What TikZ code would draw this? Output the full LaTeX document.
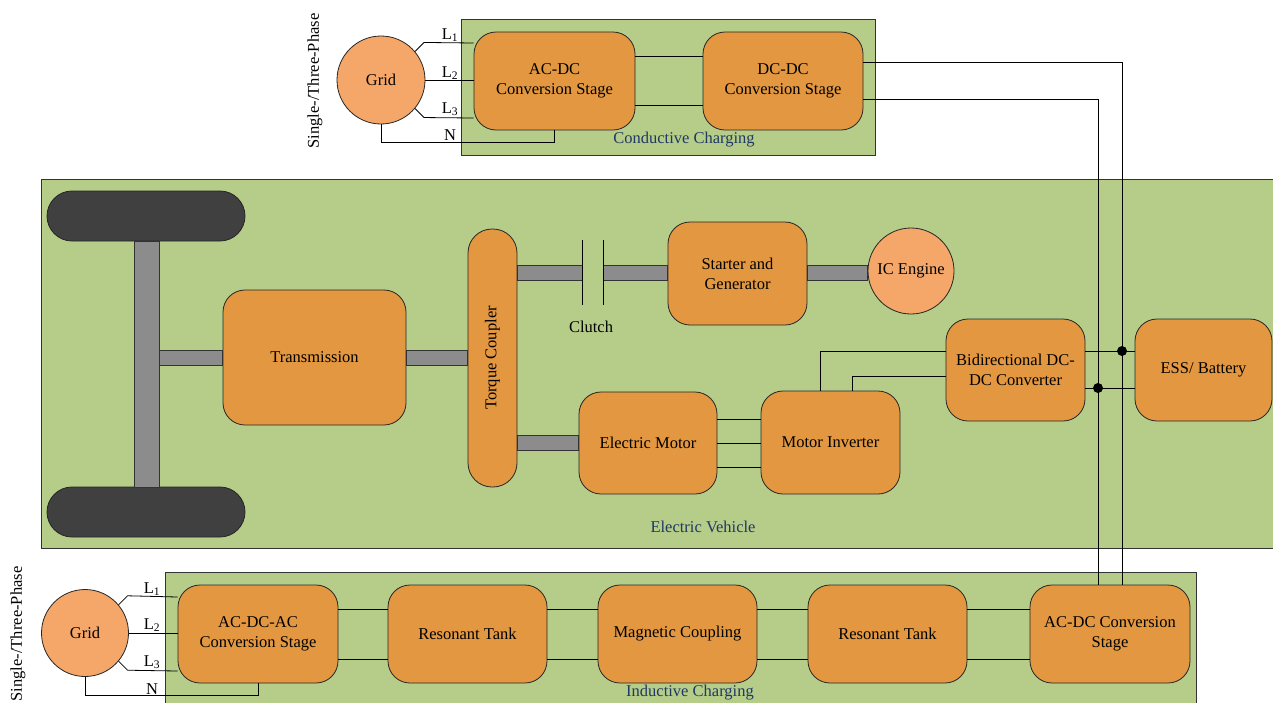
\documentclass[tikz,border=0pt]{standalone}
\usepackage{fontspec}
\setmainfont{Liberation Serif}
\usetikzlibrary{positioning,calc}
\definecolor{evgreen}{RGB}{182,204,137}
\definecolor{boxorange}{RGB}{226,151,64}
\definecolor{gridorange}{RGB}{245,167,105}
\definecolor{tyregray}{RGB}{64,64,64}
\definecolor{shaftgray}{RGB}{140,140,140}
\definecolor{labelblue}{RGB}{31,56,100}

\tikzset{
  area/.style={draw=black!80, fill=evgreen, line width=0.8pt},
  areatext/.style={text=labelblue},
  stagebox/.style={draw=black!85, fill=boxorange, line width=0.8pt, rounded corners=22pt,
    align=center, inner sep=0pt},
  gridnode/.style={circle, draw=black!85, fill=gridorange, line width=0.8pt, inner sep=0pt},
  tyre/.style={draw=black!85, fill=tyregray, line width=0.8pt, rounded corners=25pt,
    minimum width=198pt, minimum height=50pt},
  shaft/.style={draw=black!80, fill=shaftgray, line width=0.8pt},
  wire/.style={draw=black, line width=0.8pt},
}

\begin{document}
\begin{tikzpicture}[x=1pt, y=-1pt, font=\fontsize{16.5}{20}\selectfont]
    \useasboundingbox (0,0) rectangle (1273,702);

    % charging and vehicle areas
    \node[area, minimum width=414pt, minimum height=136pt] (cond) at (668,87) {};
    \node[area, minimum width=1239pt, minimum height=369pt] (ev) at (660.5,363.5) {};
    \node[area, minimum width=1031pt, minimum height=138pt] (ind) at (680.5,641) {};
    \node[areatext] (condlbl) at (684,140) {Conductive Charging};
    \node[areatext] (evlbl) at (703,527) {Electric Vehicle};
    \node[areatext] (indlbl) at (690,693) {Inductive Charging};

    % conductive charger
    \node[gridnode, minimum size=88pt] (grid1) at (381,80) {Grid};
    \node[rotate=90] (phase1) at (315,81) {Single-/Three-Phase};
    \node[stagebox, minimum width=161pt, minimum height=98pt] (acdc1) at (554.5,81) {AC-DC\\Conversion Stage};
    \node[stagebox, minimum width=160pt, minimum height=98pt] (dcdc1) at (783,81) {DC-DC\\Conversion Stage};

    % vehicle drivetrain
    \node[tyre] (tyre1) at (146,216) {};
    \node[tyre] (tyre2) at (146,512) {};
    \node[shaft, minimum width=25pt, minimum height=246pt, inner sep=0pt] (axle) at (146.5,364) {};
    \node[stagebox, minimum width=183pt, minimum height=135pt] (trans) at (314.5,357.5) {Transmission};
    \node[stagebox, minimum width=49pt, minimum height=258pt, rounded corners=24pt] (tc) at (492.5,358) {};
    \node[rotate=90] (tclbl) at (tc) {Torque Coupler};
    \node[stagebox, minimum width=139pt, minimum height=103pt] (starter) at (737.5,273.5) {Starter and\\Generator};
    \node[gridnode, minimum size=86pt] (ice) at (911,271) {IC Engine};
    \node[stagebox, minimum width=138pt, minimum height=102pt] (em) at (648,443) {Electric Motor};
    \node[stagebox, minimum width=139pt, minimum height=103pt] (mi) at (830.5,442.5) {Motor Inverter};
    \node[stagebox, minimum width=139pt, minimum height=102pt] (bidir) at (1015.5,370) {Bidirectional DC-\\DC Converter};
    \node[stagebox, minimum width=137pt, minimum height=102pt] (ess) at (1203.5,370) {ESS/ Battery};

    % inductive charger
    \node[gridnode, minimum size=87pt] (grid2) at (85,633) {Grid};
    \node[rotate=90] (phase2) at (18,634) {Single-/Three-Phase};
    \node[stagebox, minimum width=160pt, minimum height=98pt] (acdcac) at (258,634) {AC-DC-AC\\Conversion Stage};
    \node[stagebox, minimum width=159pt, minimum height=98pt] (rt1) at (467.5,634) {Resonant Tank};
    \node[stagebox, minimum width=159pt, minimum height=98pt] (mc) at (677.5,634) {Magnetic Coupling};
    \node[stagebox, minimum width=159pt, minimum height=98pt] (rt2) at (887.5,634) {Resonant Tank};
    \node[stagebox, minimum width=160pt, minimum height=98pt] (acdc2) at (1110,634) {AC-DC Conversion\\Stage};

    % shafts and clutch
    \coordinate (a1) at (axle.east |- trans.west);
    \draw[shaft] ([yshift=7.5pt]a1) rectangle ([yshift=-7.5pt]trans.west);
    \coordinate (a2) at (tc.west |- trans.east);
    \draw[shaft] ([yshift=7.5pt]trans.east) rectangle ([yshift=-7.5pt]a2);
    \coordinate (clA) at (582,272.5);
    \coordinate (clB) at (603,272.5);
    \coordinate (a3) at (tc.east |- clA);
    \draw[shaft] ([yshift=7.5pt]a3) rectangle ([yshift=-7.5pt]clA);
    \draw[shaft] ([yshift=7.5pt]clB) rectangle ([yshift=-7.5pt]clB -| starter.west);
    \draw[shaft] ([yshift=7.5pt]starter.east |- clB) rectangle ([yshift=-7.5pt]ice.west |- clB);
    \draw[wire] ([yshift=32.5pt]clA) -- ([yshift=-32.5pt]clA);
    \draw[wire] ([yshift=32.5pt]clB) -- ([yshift=-32.5pt]clB);
    \node (clutch) at (591,327) {Clutch};
    \coordinate (a4) at (tc.east |- em.west);
    \draw[shaft] ([yshift=7.5pt]a4) rectangle ([yshift=-7.5pt]em.west);

    % conductive charger wiring
    \draw[wire] (grid1.40) -- ++(9,-9) -- ([yshift=38pt]acdc1.west);
    \draw[wire] (grid1.east) -- (grid1.east -| acdc1.west);
    \draw[wire] (grid1.-40) -- ++(9,9) -- ([yshift=-37pt]acdc1.west);
    \draw[wire] (grid1.south) -- ++(0,18) -| (acdc1.south);
    \node (l1a) at (450,35) {L\textsubscript{1}};
    \node (l2a) at (450,73) {L\textsubscript{2}};
    \node (l3a) at (450,109) {L\textsubscript{3}};
    \node (na) at (450,135) {N};
    \draw[wire] ([yshift=24.5pt]acdc1.east) -- ([yshift=24.5pt]dcdc1.west);
    \draw[wire] ([yshift=-24.5pt]acdc1.east) -- ([yshift=-24.5pt]dcdc1.west);

    % vehicle wiring
    \foreach \dy in {24,0,-24}
      \draw[wire] ([yshift=\dy pt]em.east) -- ([yshift=\dy pt]em.east -| mi.west);
    \draw[wire] ([xshift=-10.5pt]mi.north) |- ([yshift=19pt]bidir.west);
    \draw[wire] ([xshift=21.5pt]mi.north) |- ([yshift=-6pt]bidir.west);
    \coordinate (battA) at ([yshift=19pt]bidir.east);
    \coordinate (battB) at ([yshift=-18pt]bidir.east);
    \draw[wire] (battA) -- (battA -| ess.west);
    \draw[wire] (battB) -- (battB -| ess.west);

    % charger links to the battery bus
    \coordinate (busA) at ([xshift=12pt]acdc2.north);
    \coordinate (busB) at ([xshift=-12pt]acdc2.north);
    \draw[wire] ([yshift=19pt]dcdc1.east) -| (busA);
    \draw[wire] ([yshift=-18pt]dcdc1.east) -| (busB);
    \fill (busA |- battA) circle (5pt);
    \fill (busB |- battB) circle (5pt);

    % inductive charger wiring
    \draw[wire] (grid2.40) -- ++(9,-9) -- ([yshift=37pt]acdcac.west);
    \draw[wire] (grid2.east) -- (grid2.east -| acdcac.west);
    \draw[wire] (grid2.-40) -- ++(9,9) -- ([yshift=-37pt]acdcac.west);
    \draw[wire] (grid2.south) -- ++(0,18) -| (acdcac.south);
    \node (l1b) at (152,589) {L\textsubscript{1}};
    \node (l2b) at (152,625) {L\textsubscript{2}};
    \node (l3b) at (152,662) {L\textsubscript{3}};
    \node (nb) at (152,689) {N};
    \foreach \a/\b in {acdcac/rt1, rt1/mc, mc/rt2, rt2/acdc2} {
      \draw[wire] ([yshift=25pt]\a.east) -- ([yshift=25pt]\b.west);
      \draw[wire] ([yshift=-25pt]\a.east) -- ([yshift=-25pt]\b.west);
    }
\end{tikzpicture}
\end{document}
